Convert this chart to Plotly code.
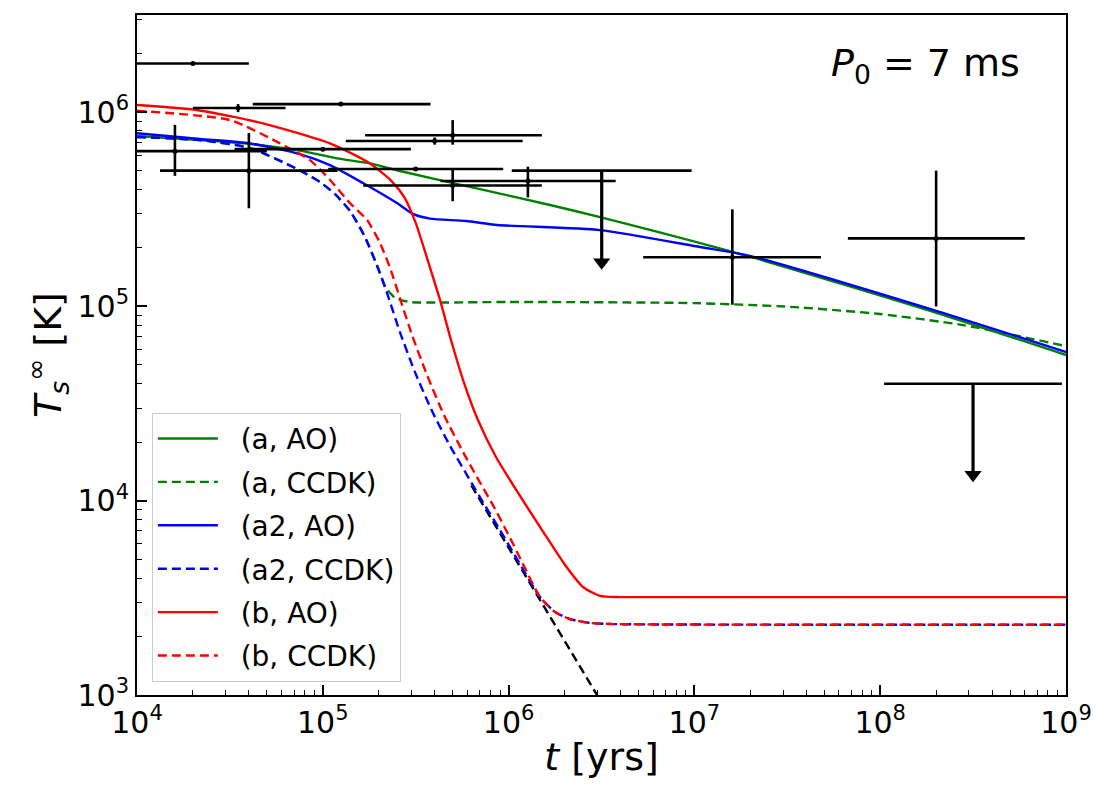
import plotly.graph_objects as go

# ---------------- data ----------------
# cooling curves, stored as log10(t [yrs]) and log10(T [K])
a_ao_logt = [4.0, 4.339, 4.608, 4.877, 5.076, 5.254, 5.415, 5.846, 6.223, 6.492, 7.299, 8.306, 9.0]
a_ao_logT = [5.877, 5.856, 5.836, 5.802, 5.762, 5.736, 5.697, 5.604, 5.522, 5.460, 5.256, 4.966, 4.750]

a_ccdk_logt = [4.0, 4.339, 4.608, 4.877, 4.985, 5.066, 5.146, 5.227, 5.297, 5.340, 5.389, 5.469, 5.631, 6.002, 7.003, 7.515, 7.999, 8.446, 9.0]
a_ccdk_logT = [5.872, 5.856, 5.815, 5.700, 5.640, 5.578, 5.492, 5.357, 5.198, 5.095, 5.044, 5.023, 5.020, 5.023, 5.017, 4.998, 4.961, 4.904, 4.796]

a2_ao_logt = [4.0, 4.339, 4.608, 4.877, 5.039, 5.216, 5.399, 5.485, 5.577, 5.771, 5.938, 6.492, 7.030, 7.299, 8.306, 9.0]
a2_ao_logT = [5.891, 5.862, 5.839, 5.784, 5.727, 5.635, 5.532, 5.476, 5.452, 5.440, 5.419, 5.393, 5.306, 5.260, 4.976, 4.765]

a2_ccdk_logt = [4.0, 4.339, 4.608, 4.877, 4.985, 5.066, 5.146, 5.227, 5.297, 5.351, 5.415, 5.496, 5.593, 5.685, 5.776, 5.868, 5.954, 6.061, 6.169, 6.250, 6.330, 6.438, 6.573, 9.0]
a2_ccdk_logT = [5.872, 5.856, 5.815, 5.700, 5.640, 5.578, 5.492, 5.357, 5.198, 5.054, 4.868, 4.662, 4.451, 4.282, 4.132, 3.983, 3.849, 3.674, 3.504, 3.427, 3.391, 3.371, 3.365, 3.362]

b_ao_logt = [4.0, 4.323, 4.678, 5.039, 5.254, 5.370, 5.440, 5.500, 5.561, 5.631, 5.690, 5.755, 5.835, 5.932, 6.051, 6.180, 6.304, 6.400, 6.492, 6.600, 9.0]
b_ao_logT = [6.037, 6.011, 5.942, 5.839, 5.736, 5.645, 5.560, 5.430, 5.249, 5.033, 4.827, 4.621, 4.415, 4.225, 4.040, 3.849, 3.669, 3.556, 3.510, 3.504, 3.504]

b_ccdk_logt = [4.0, 4.501, 4.770, 4.931, 5.039, 5.146, 5.238, 5.308, 5.362, 5.415, 5.480, 5.561, 5.652, 5.749, 5.835, 5.921, 5.997, 6.072, 6.169, 6.250, 6.330, 6.438, 6.573, 9.0]
b_ccdk_logT = [6.007, 5.959, 5.839, 5.753, 5.651, 5.532, 5.445, 5.326, 5.198, 5.043, 4.853, 4.647, 4.441, 4.261, 4.112, 3.968, 3.829, 3.685, 3.504, 3.427, 3.391, 3.371, 3.365, 3.362]

# power-law asymptote (black dashed)
pl_t = [6.3e5, 2.99e6]
pl_T = [1.2e4, 1.0e3]

# observations with error bars
obs_t = [2e4, 3.5e4, 1.25e5, 5e5, 4e5, 1.6e4, 1e5, 4e4, 3.16e5, 1.27e6, 5e5, 1.6e7, 2e8]
obs_tlo = [1e4, 2e4, 4.2e4, 1.69e5, 1.33e5, 5e3, 3.35e4, 1.33e4, 1.07e5, 4.3e5, 1.65e5, 5.3e6, 6.7e7]
obs_thi = [4e4, 6.3e4, 3.8e5, 1.51e6, 1.19e6, 5e4, 2.98e5, 1.2e5, 9.35e5, 3.77e6, 1.51e6, 4.8e7, 6.0e8]
obs_T = [1.78e6, 1.05e6, 1.1e6, 7.6e5, 7.1e5, 6.3e5, 6.45e5, 5.0e5, 5.1e5, 4.42e5, 4.19e5, 1.79e5, 2.24e5]
obs_Tlo = [1.78e6, 1.0e6, 1.1e6, 6.8e5, 6.8e5, 4.7e5, 6.45e5, 3.2e5, 5.1e5, 3.64e5, 3.48e5, 1.02e5, 1.0e5]
obs_Thi = [1.78e6, 1.1e6, 1.1e6, 9.1e5, 7.4e5, 8.6e5, 6.45e5, 7.8e5, 5.1e5, 5.24e5, 5.04e5, 3.16e5, 5.0e5]

# upper limits
ul_t = [3.17e6, 3.16e8]
ul_tlo = [1.04e6, 1.05e8]
ul_thi = [9.66e6, 9.5e8]
ul_T = [5.0e5, 4.0e4]
ul_tip = [1.69e5, 1.36e4]

x_ticks = [1e4, 1e5, 1e6, 1e7, 1e8, 1e9]
x_ticktext = ["10<sup>4</sup>", "10<sup>5</sup>", "10<sup>6</sup>", "10<sup>7</sup>", "10<sup>8</sup>", "10<sup>9</sup>"]
y_ticks = [1e3, 1e4, 1e5, 1e6]
y_ticktext = ["10<sup>3</sup>", "10<sup>4</sup>", "10<sup>5</sup>", "10<sup>6</sup>"]

# ---------------- figure ----------------
FONT = "DejaVu Sans"
LW = 2.4
DASH = "9px,5px"

fig = go.Figure()

curves = [
    ("(a, AO)", a_ao_logt, a_ao_logT, "green", "solid"),
    ("(a, CCDK)", a_ccdk_logt, a_ccdk_logT, "green", DASH),
    ("(a2, AO)", a2_ao_logt, a2_ao_logT, "blue", "solid"),
    ("(a2, CCDK)", a2_ccdk_logt, a2_ccdk_logT, "blue", DASH),
    ("(b, AO)", b_ao_logt, b_ao_logT, "red", "solid"),
    ("(b, CCDK)", b_ccdk_logt, b_ccdk_logT, "red", DASH),
]

fig.add_trace(go.Scatter(x=pl_t, y=pl_T, mode="lines", showlegend=False,
                         line=dict(color="black", width=LW, dash=DASH)))

for i, (name, lt, lT, col, dash) in enumerate(curves):
    fig.add_trace(go.Scatter(x=[10 ** v for v in lt], y=[10 ** v for v in lT],
                             mode="lines", name="&nbsp;&nbsp;" + name, legendgroup=f"g{i}",
                             line=dict(color=col, width=LW, dash=dash, shape="spline", smoothing=0.6)))

fig.add_trace(go.Scatter(
    x=obs_t, y=obs_T, mode="markers", showlegend=False,
    marker=dict(color="black", size=5),
    error_x=dict(type="data", symmetric=False,
                 array=[h - c for h, c in zip(obs_thi, obs_t)],
                 arrayminus=[c - l for l, c in zip(obs_tlo, obs_t)],
                 color="black", thickness=2.6, width=0),
    error_y=dict(type="data", symmetric=False,
                 array=[h - c for h, c in zip(obs_Thi, obs_T)],
                 arrayminus=[c - l for l, c in zip(obs_Tlo, obs_T)],
                 color="black", thickness=2.6, width=0),
))

fig.add_trace(go.Scatter(
    x=ul_t, y=ul_T, mode="markers", showlegend=False,
    marker=dict(color="black", size=1),
    error_x=dict(type="data", symmetric=False,
                 array=[h - c for h, c in zip(ul_thi, ul_t)],
                 arrayminus=[c - l for l, c in zip(ul_tlo, ul_t)],
                 color="black", thickness=2.6, width=0),
    error_y=dict(type="data", symmetric=False,
                 array=[0 for _ in ul_T],
                 arrayminus=[c - tp for c, tp in zip(ul_T, ul_tip)],
                 color="black", thickness=3.2, width=0),
))
fig.add_trace(go.Scatter(x=ul_t, y=ul_tip, mode="markers", showlegend=False,
                         marker=dict(symbol="triangle-down", color="black", size=15,
                                     line=dict(width=0))))

minor_x = [m * 10**k for k in range(4, 9) for m in range(2, 10)]
minor_y = [m * 10**k for k in range(3, 7) for m in range(2, 10) if m * 10**k < 3.2e6]

axis_common = dict(showline=True, linecolor="black", linewidth=2, mirror=True,
                   ticks="inside", ticklen=10, tickwidth=1.6, tickcolor="black",
                   showgrid=False, zeroline=False,
                   tickfont=dict(family=FONT, size=30, color="black"))

fig.update_xaxes(type="log", range=[4, 9], tickvals=x_ticks, ticktext=x_ticktext,
                 title=dict(text="<i>t</i> [yrs]", font=dict(family=FONT, size=38, color="black"), standoff=4),
                 minor=dict(tickvals=minor_x, ticks="inside", ticklen=5, tickwidth=1.3, tickcolor="black", showgrid=False),
                 **axis_common)
fig.update_yaxes(type="log", range=[3, 6.5], tickvals=y_ticks, ticktext=y_ticktext,
                 title=dict(text="<i>T</i><sub><i>s</i></sub><sup>∞</sup> [K]", font=dict(family=FONT, size=38, color="black"), standoff=4),
                 minor=dict(tickvals=minor_y, ticks="inside", ticklen=5, tickwidth=1.3, tickcolor="black", showgrid=False),
                 **axis_common)

fig.add_annotation(x=0.953, y=0.926, xref="paper", yref="paper", showarrow=False,
                   xanchor="right", yanchor="middle",
                   text="<i>P</i><sub>0</sub> = 7 ms",
                   font=dict(family=FONT, size=38, color="black"))

fig.update_layout(
    width=1113, height=803,
    margin=dict(l=137, r=47, t=15, b=108),
    paper_bgcolor="white", plot_bgcolor="white",
    font=dict(family=FONT, color="black"),
    legend=dict(x=0.016, y=0.415, xanchor="left", yanchor="top",
                bgcolor="white", bordercolor="#cccccc", borderwidth=1,
                font=dict(family=FONT, size=28, color="black"),
                tracegroupgap=4, itemwidth=60),
)

fig.write_html("out.html")
